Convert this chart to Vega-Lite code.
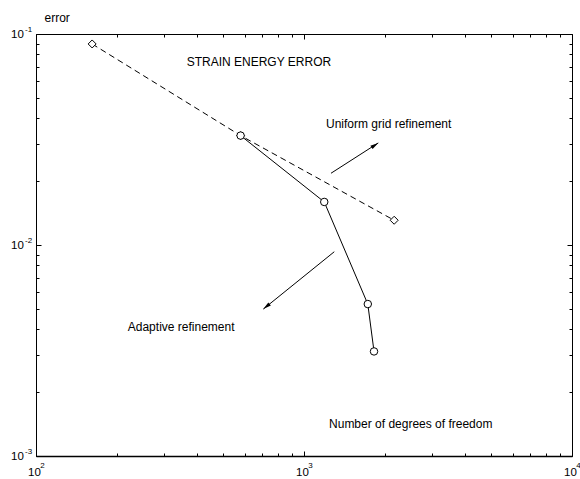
{
  "$schema": "https://vega.github.io/schema/vega-lite/v6.json",
  "width": 536,
  "height": 422,
  "autosize": {"type": "none"},
  "padding": {"left": 36, "top": 34, "right": 8, "bottom": 23},
  "background": "white",
  "config": {
    "view": {"stroke": "black", "strokeWidth": 1},
    "axis": {
      "grid": false,
      "labelFont": "Liberation Sans",
      "labelColor": "black",
      "titleFont": "Liberation Sans",
      "titleColor": "black",
      "domainColor": "black",
      "tickColor": "black",
      "tickWidth": 1,
      "labelFlush": false,
      "labelOverlap": false,
      "labelBound": false
    },
    "text": {"font": "Liberation Sans"}
  },
  "datasets": {
    "uniform": [
      {"dof": 162, "err": 0.0897},
      {"dof": 580, "err": 0.0330},
      {"dof": 2170, "err": 0.0131}
    ],
    "adaptive": [
      {"dof": 580, "err": 0.0330},
      {"dof": 1190, "err": 0.0160},
      {"dof": 1730, "err": 0.00525},
      {"dof": 1825, "err": 0.00313}
    ],
    "arrows": [
      {"arrow": "uniform", "dof": 1261, "err": 0.02188, "dof2": 1893, "err2": 0.03046},
      {"arrow": "adaptive", "dof": 1297, "err": 0.00929, "dof2": 705, "err2": 0.00497}
    ],
    "notes": [
      {"text": "STRAIN ENERGY ERROR", "dof": 365, "err": 0.0739},
      {"text": "Uniform grid refinement", "dof": 1208, "err": 0.0375},
      {"text": "Adaptive refinement", "dof": 220, "err": 0.00409},
      {"text": "Number of degrees of freedom", "dof": 1240, "err": 0.00142}
    ]
  },
  "resolve": {"axis": {"x": "independent", "y": "independent"}},
  "layer": [
    {
      "data": {"name": "uniform"},
      "mark": {"type": "line", "color": "black", "strokeWidth": 1, "strokeDash": [6, 4]},
      "encoding": {
        "x": {
          "field": "dof", "type": "quantitative",
          "scale": {"type": "log", "domain": [100, 10000], "nice": false},
          "axis": {
            "orient": "bottom", "values": [100, 1000, 10000], "labelExpr": "'10'",
            "ticks": false, "domain": true, "domainWidth": 1.5,
            "labelFontSize": 11.5, "labelPadding": 10, "labelOffset": -2,
            "labelAlign": "center", "labelBaseline": "top", "title": null
          }
        },
        "y": {
          "field": "err", "type": "quantitative",
          "scale": {"type": "log", "domain": [0.001, 0.1], "nice": false},
          "axis": {
            "orient": "left", "values": [0.001, 0.01, 0.1], "labelExpr": "'10'",
            "ticks": false, "domain": true, "domainWidth": 1,
            "labelFontSize": 11.5, "labelPadding": 12.7,
            "labelAlign": "right", "labelBaseline": "middle",
            "title": "error", "titleAngle": 0, "titleX": 8, "titleY": -17,
            "titleAlign": "left", "titleBaseline": "middle",
            "titleFontSize": 12, "titleFontWeight": "normal"
          }
        }
      }
    },
    {
      "data": {"name": "uniform"},
      "mark": {"type": "point", "shape": "diamond", "size": 64, "filled": true, "fill": "white", "stroke": "black", "strokeWidth": 1, "opacity": 1},
      "encoding": {
        "x": {
          "field": "dof", "type": "quantitative",
          "scale": {"type": "log", "domain": [100, 10000], "nice": false},
          "axis": {
            "orient": "bottom", "values": [100, 1000, 10000],
            "labelExpr": "'' + round(log(datum.value) / LN10)",
            "ticks": false, "domain": false,
            "labelFontSize": 8, "labelPadding": 5, "labelOffset": 6,
            "labelAlign": "center", "labelBaseline": "top", "title": null
          }
        },
        "y": {
          "field": "err", "type": "quantitative",
          "scale": {"type": "log", "domain": [0.001, 0.1], "nice": false},
          "axis": {
            "orient": "left", "values": [0.001, 0.01, 0.1],
            "labelExpr": "'' + round(log(datum.value) / LN10)",
            "ticks": false, "domain": false,
            "labelFontSize": 8, "labelPadding": 4.3, "labelOffset": -4.5,
            "labelAlign": "right", "labelBaseline": "middle", "title": null
          }
        }
      }
    },
    {
      "data": {"name": "adaptive"},
      "mark": {"type": "line", "color": "black", "strokeWidth": 1},
      "encoding": {
        "x": {
          "field": "dof", "type": "quantitative",
          "scale": {"type": "log", "domain": [100, 10000], "nice": false},
          "axis": {"orient": "bottom", "values": [100, 1000, 10000], "labels": false, "domain": false, "ticks": true, "tickSize": -5, "title": null}
        },
        "y": {
          "field": "err", "type": "quantitative",
          "scale": {"type": "log", "domain": [0.001, 0.1], "nice": false},
          "axis": {"orient": "left", "values": [0.001, 0.01, 0.1], "labels": false, "domain": false, "ticks": true, "tickSize": -5, "title": null}
        }
      }
    },
    {
      "data": {"name": "adaptive"},
      "mark": {"type": "point", "shape": "circle", "size": 56, "filled": true, "fill": "white", "stroke": "black", "strokeWidth": 1, "opacity": 1},
      "encoding": {
        "x": {
          "field": "dof", "type": "quantitative",
          "scale": {"type": "log", "domain": [100, 10000], "nice": false},
          "axis": {"orient": "bottom", "values": [200, 300, 400, 500, 600, 700, 800, 900, 2000, 3000, 4000, 5000, 6000, 7000, 8000, 9000], "labels": false, "domain": false, "ticks": true, "tickSize": -3, "title": null}
        },
        "y": {
          "field": "err", "type": "quantitative",
          "scale": {"type": "log", "domain": [0.001, 0.1], "nice": false},
          "axis": {"orient": "left", "values": [0.002, 0.003, 0.004, 0.005, 0.006, 0.007, 0.008, 0.009, 0.02, 0.03, 0.04, 0.05, 0.06, 0.07, 0.08, 0.09], "labels": false, "domain": false, "ticks": true, "tickSize": -3, "title": null}
        }
      }
    },
    {
      "data": {"name": "arrows"},
      "mark": {"type": "rule", "color": "black", "strokeWidth": 1},
      "encoding": {
        "x": {
          "field": "dof", "type": "quantitative",
          "scale": {"type": "log", "domain": [100, 10000], "nice": false},
          "axis": {"orient": "top", "values": [100, 1000, 10000], "labels": false, "domain": false, "ticks": true, "tickSize": -5, "title": null}
        },
        "y": {
          "field": "err", "type": "quantitative",
          "scale": {"type": "log", "domain": [0.001, 0.1], "nice": false},
          "axis": {"orient": "right", "values": [0.001, 0.01, 0.1], "labels": false, "domain": false, "ticks": true, "tickSize": -5, "title": null}
        },
        "x2": {"field": "dof2"},
        "y2": {"field": "err2"}
      }
    },
    {
      "data": {"name": "arrows"},
      "transform": [{"filter": "datum.arrow == 'uniform'"}],
      "mark": {"type": "point", "shape": "M0,0L-0.45,1.8L0.45,1.8Z", "size": 81, "angle": 57, "filled": true, "color": "black", "opacity": 1, "strokeWidth": 0},
      "encoding": {
        "x": {
          "field": "dof2", "type": "quantitative",
          "scale": {"type": "log", "domain": [100, 10000], "nice": false},
          "axis": {"orient": "top", "values": [200, 300, 400, 500, 600, 700, 800, 900, 2000, 3000, 4000, 5000, 6000, 7000, 8000, 9000], "labels": false, "domain": false, "ticks": true, "tickSize": -3, "title": null}
        },
        "y": {
          "field": "err2", "type": "quantitative",
          "scale": {"type": "log", "domain": [0.001, 0.1], "nice": false},
          "axis": {"orient": "right", "values": [0.002, 0.003, 0.004, 0.005, 0.006, 0.007, 0.008, 0.009, 0.02, 0.03, 0.04, 0.05, 0.06, 0.07, 0.08, 0.09], "labels": false, "domain": false, "ticks": true, "tickSize": -3, "title": null}
        }
      }
    },
    {
      "data": {"name": "arrows"},
      "transform": [{"filter": "datum.arrow == 'adaptive'"}],
      "mark": {"type": "point", "shape": "M0,0L-0.45,1.8L0.45,1.8Z", "size": 81, "angle": 231, "filled": true, "color": "black", "opacity": 1, "strokeWidth": 0},
      "encoding": {
        "x": {"field": "dof2", "type": "quantitative", "scale": {"type": "log", "domain": [100, 10000], "nice": false}, "axis": null},
        "y": {"field": "err2", "type": "quantitative", "scale": {"type": "log", "domain": [0.001, 0.1], "nice": false}, "axis": null}
      }
    },
    {
      "data": {"name": "notes"},
      "mark": {"type": "text", "align": "left", "baseline": "middle", "fontSize": 12, "color": "black"},
      "encoding": {
        "x": {"field": "dof", "type": "quantitative", "scale": {"type": "log", "domain": [100, 10000], "nice": false}, "axis": null},
        "y": {"field": "err", "type": "quantitative", "scale": {"type": "log", "domain": [0.001, 0.1], "nice": false}, "axis": null},
        "text": {"field": "text"}
      }
    }
  ]
}
